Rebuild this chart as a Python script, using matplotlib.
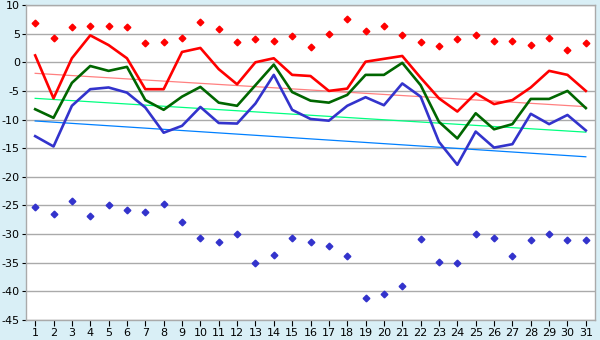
import matplotlib
matplotlib.use("Agg")
import matplotlib.pyplot as plt

days = list(range(1, 32))

red_points = [6.8, 4.2, 6.1, 6.3, 6.3, 6.1, 3.3, 3.5, 4.2, 7.1,
              5.75, 3.5, 4.0, 3.8, 4.6, 2.6, 4.9, 7.5, 5.4, 6.3,
              4.8, 3.5, 2.8, 4.0, 4.7, 3.7, 3.8, 3.0, 4.2, 2.1, 3.3]

red_line = [1.2, -6.3, 0.7, 4.7, 3.0, 0.7, -4.7, -4.7, 1.8, 2.5,
            -1.2, -3.85, 0.0, 0.7, -2.2, -2.4, -5.0, -4.6, 0.1, 0.6,
            1.1, -2.7, -6.3, -8.6, -5.4, -7.3, -6.6, -4.4, -1.5, -2.2, -5.0]

green_line = [-8.2, -9.7, -3.6, -0.65, -1.5, -0.8, -6.6, -8.3, -6.0, -4.3,
              -7.05, -7.6, -4.0, -0.4, -5.2, -6.7, -7.05, -5.7, -2.2, -2.2,
              -0.1, -4.0, -10.4, -13.3, -8.9, -11.7, -10.8, -6.4, -6.4, -5.0, -8.0]

blue_line = [-12.9, -14.7, -7.6, -4.7, -4.4, -5.3, -7.9, -12.3, -11.1, -7.8,
             -10.6, -10.7, -7.2, -2.2, -8.3, -9.9, -10.2, -7.6, -6.1, -7.5,
             -3.7, -6.0, -13.9, -17.9, -12.1, -14.9, -14.3, -9.0, -10.8, -9.2, -11.9]

blue_points = [-25.3, -26.5, -24.3, -26.8, -25.0, -25.85, -26.2, -24.8, -27.95, -30.75,
               -31.4, -30.05, -35.1, -33.7, -30.75, -31.4, -32.1, -33.9, -41.2, -40.5,
               -39.1, -30.9, -34.9, -35.1, -30.0, -30.75, -33.9, -31.1, -30.0, -31.1, -31.1]

trend_days = [1, 31]
red_trend = [-1.93, -7.75]
green_trend = [-6.3, -12.2]
blue_trend = [-10.25, -16.5]

y_ticks = list(range(-45, 11, 5))
y_labels = [str(v) for v in y_ticks]

bg = "#d9eff6"
fig = plt.figure(figsize=(6.0, 3.4), dpi=100, facecolor=bg)
ax = fig.add_axes([26 / 600, 20 / 340, 569 / 600, 315 / 340])
ax.set_facecolor("white")

ax.plot(trend_days, red_trend, color="#ff8080", lw=0.9, zorder=2)
ax.plot(trend_days, green_trend, color="#00ff80", lw=0.9, zorder=2)
ax.plot(trend_days, blue_trend, color="#0080ff", lw=0.9, zorder=2)

ax.plot(days, blue_line, color="#3333cc", lw=1.9, zorder=3)
ax.plot(days, green_line, color="#006600", lw=1.9, zorder=3)
ax.plot(days, red_line, color="#ff0000", lw=1.9, zorder=4)

ax.plot(days, red_points, linestyle="none", marker="D", markersize=3.4,
        color="#ff0000", zorder=5)
ax.plot(days, blue_points, linestyle="none", marker="D", markersize=3.4,
        color="#3333cc", zorder=5)

ax.set_xlim(0.5, 31.5)
ax.set_ylim(-45, 10)
ax.set_xticks(days)
ax.set_xticklabels([str(d) for d in days])
ax.set_yticks(y_ticks)
ax.set_yticklabels(y_labels)
ax.grid(axis="y", color="#aaaaaa", lw=1.0)
ax.set_axisbelow(True)
for s in ax.spines.values():
    s.set_color("#aaaaaa")
    s.set_linewidth(1.0)
ax.tick_params(axis="both", labelsize=8, colors="black", length=4, width=0.8,
               pad=1.5)
ax.tick_params(axis="y", length=3)
for lbl in ax.get_xticklabels() + ax.get_yticklabels():
    lbl.set_color("black")

fig.savefig("out.png", dpi=100, facecolor=bg)
